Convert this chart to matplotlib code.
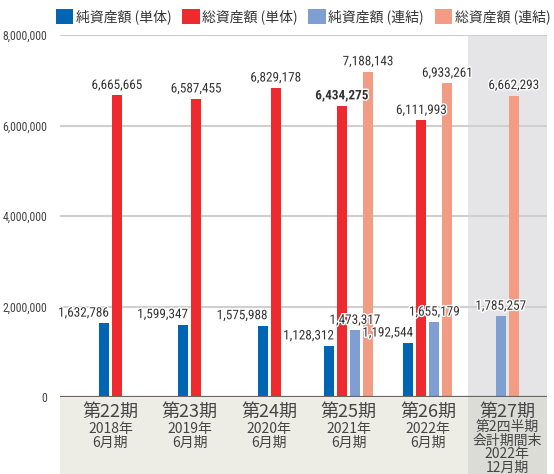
import matplotlib
matplotlib.use("Agg")
import matplotlib.pyplot as plt
import matplotlib.patheffects as pe
from matplotlib.patches import Rectangle, Patch
from matplotlib import font_manager as fm

plt.rcParams['font.family'] = ['Noto Sans CJK JP', 'DejaVu Sans']

periods = ['第22期', '第23期', '第24期', '第25期', '第26期', '第27期']
sub_labels = ['2018年\n6月期', '2019年\n6月期', '2020年\n6月期', '2021年\n6月期', '2022年\n6月期', None]
series_names = ['純資産額 (単体)', '総資産額 (単体)', '純資産額 (連結)', '総資産額 (連結)']
net_single = [1632786, 1599347, 1575988, 1128312, 1192544, None]
total_single = [6665665, 6587455, 6829178, 6434275, 6111993, None]
net_consol = [None, None, None, 1473317, 1655179, 1785257]
total_consol = [None, None, None, 7188143, 6933261, 6662293]
yticks = [0, 2000000, 4000000, 6000000, 8000000]

colors = ['#0066b3', '#ee2a2f', '#7f9fd2', '#f39c84']
series = [net_single, total_single, net_consol, total_consol]

# pick a narrow font for the numbers if one is installed
installed = set(f.name for f in fm.fontManager.ttflist)
narrow = 'DejaVu Sans'
for cand in ['Roboto Condensed', 'Liberation Sans Narrow', 'Archivo Narrow', 'PT Sans Narrow',
             'Open Sans Condensed', 'Fira Sans Condensed', 'Barlow Condensed', 'Roboto']:
    if cand in installed:
        narrow = cand
        break
num_font = [narrow, 'DejaVu Sans']

W, H = 554, 474
fig = plt.figure(figsize=(W / 100, H / 100), dpi=100)
ax = fig.add_axes([60 / W, 1 - 397 / H, 487 / W, 362 / H])

ax.set_xlim(-0.636, 5.5)
ax.set_ylim(0, 8000000)
ax.axvspan(4.5, 5.5, color='#e5e5e7', zorder=0, lw=0)

for y in yticks[1:]:
    ax.axhline(y, color='#cfcfcf', lw=1.5, zorder=1)

width = 0.126
step = 0.164
for i in range(len(periods)):
    present = [k for k in range(4) if series[k][i] is not None]
    n = len(present)
    for j, k in enumerate(present):
        x = i + (j - (n - 1) / 2) * step
        v = series[k][i]
        ax.bar(x, v, width=width, color=colors[k], zorder=3)
        if k == 0:
            tx, ha = x + width / 2, 'right'
        else:
            tx, ha = x, 'center'
        bold = (k == 1 and i == 3)
        ax.annotate(f'{v:,}', (tx, v), xytext=(0, 2.5), textcoords='offset points',
                    ha=ha, va='bottom', fontsize=9.5, color='#333333',
                    family=num_font, fontweight='bold' if bold else 'normal', zorder=5,
                    path_effects=[pe.withStroke(linewidth=2, foreground='white')])

ax.axhline(0, color='#666666', lw=1.6, zorder=4)

ax.set_yticks(yticks)
ax.set_yticklabels([f'{t:,}' for t in yticks], family=num_font, fontsize=8.5, color='#444444')
ax.tick_params(axis='y', length=0, pad=9)
ax.set_xticks([])
for s in ax.spines.values():
    s.set_visible(False)

# bottom category panel
trans = ax.get_xaxis_transform()
panel_h = 77 / 362
ax.add_patch(Rectangle((0, -panel_h), 1, panel_h, transform=ax.transAxes,
                       facecolor='#eeede5', edgecolor='none', clip_on=False, zorder=0))
ax.add_patch(Rectangle((4.5, -panel_h), 1.0, panel_h, transform=trans,
                       facecolor='#dcdcd6', edgecolor='none', clip_on=False, zorder=0))

def ay(py):
    return (397 - py) / 362

for i, p in enumerate(periods):
    ax.text(i, ay(412), p, transform=trans, ha='center', va='center',
            fontsize=13, color='#444444')
    if sub_labels[i]:
        ax.text(i, ay(436), sub_labels[i], transform=trans, ha='center', va='center',
                fontsize=10, color='#444444', linespacing=1.0)
ax.text(5, ay(434), '第2四半期\n会計期間末', transform=trans, ha='center', va='center',
        fontsize=10, color='#444444', linespacing=1.0)
ax.text(5, ay(461), '2022年\n12月期', transform=trans, ha='center', va='center',
        fontsize=10, color='#444444', linespacing=1.0)

handles = [Patch(facecolor=c, edgecolor='none') for c in colors]
fig.legend(handles, series_names, loc='center left', bbox_to_anchor=(56 / W, 1 - 17 / H),
           ncol=4, frameon=False, fontsize=10, handlelength=1.25, handleheight=1.25,
           handletextpad=0.2, columnspacing=0.75, labelcolor='#333333', borderpad=0,
           borderaxespad=0)

fig.savefig('out.png', dpi=100)
